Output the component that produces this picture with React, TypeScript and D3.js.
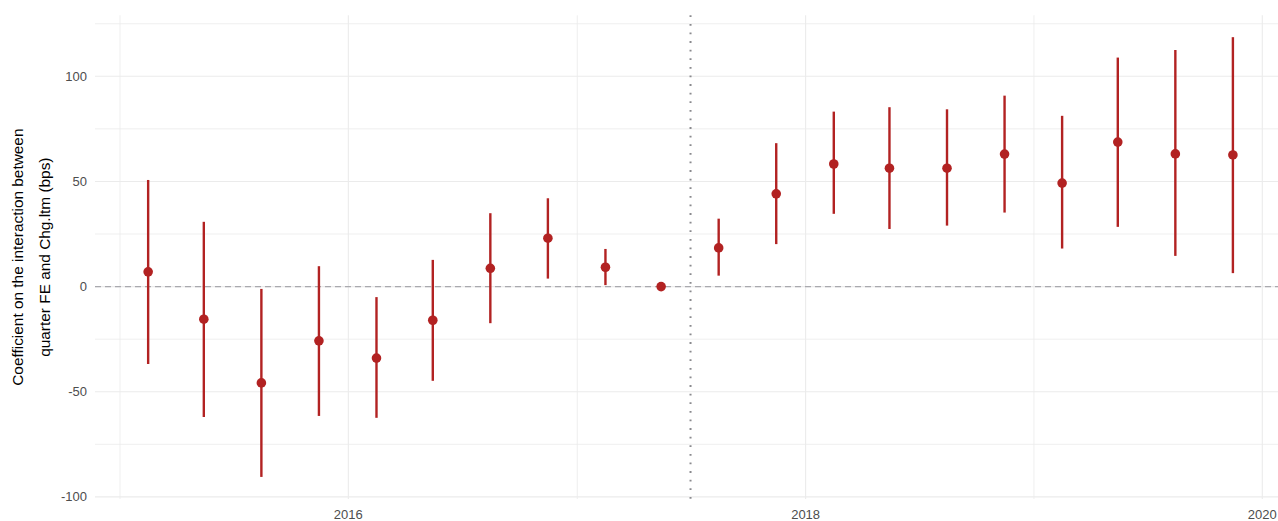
import React from "react";
import * as d3 from "d3";

const dates = [
  "2015-02-15", "2015-05-15", "2015-08-15", "2015-11-15",
  "2016-02-15", "2016-05-15", "2016-08-15", "2016-11-15",
  "2017-02-15", "2017-05-15", "2017-08-15", "2017-11-15",
  "2018-02-15", "2018-05-15", "2018-08-15", "2018-11-15",
  "2019-02-15", "2019-05-15", "2019-08-15", "2019-11-15",
];
const estimates = [7.0, -15.5, -45.8, -25.8, -34.0, -16.0, 8.7, 23.0, 9.2, 0, 18.4, 44.1, 58.3, 56.3, 56.3, 63.0, 49.2, 68.7, 63.1, 62.6];
const lower = [-36.8, -62.0, -90.5, -61.5, -62.4, -44.8, -17.4, 3.8, 0.7, 0, 5.2, 20.2, 34.6, 27.4, 29.0, 35.2, 18.1, 28.4, 14.6, 6.4];
const upper = [50.7, 30.8, -1.1, 9.7, -5.0, 12.7, 34.9, 42.0, 17.9, 0, 32.3, 68.2, 83.2, 85.3, 84.3, 90.8, 81.2, 108.9, 112.5, 118.6];

const yMajor = [-100, -50, 0, 50, 100];
const yMinor = [-75, -25, 25, 75, 125];
const xMajor = ["2016-01-01", "2018-01-01", "2020-01-01"];
const xMinor = ["2015-01-01", "2017-01-01", "2019-01-01"];
const xTickLabels = ["2016", "2018", "2020"];
const eventDate = "2017-07-01";
const yTitle = ["Coefficient on the interaction between", "quarter FE and Chg.ltm (bps)"];

const W = 1278;
const H = 521;
const panel = { left: 95, right: 1288, top: 15.3, bottom: 499 };
const parse = d3.timeParse("%Y-%m-%d");

export default function App() {
  const x = d3
    .scaleTime()
    .domain([parse("2015-01-01")!, parse("2020-01-01")!])
    .range([120, 1262.3]);
  const y = d3.scaleLinear().domain([-101, 129]).range([panel.bottom, panel.top]);
  const red = "#B22222";
  const grid = "#EBEBEB";
  const font = "'Liberation Sans', Arial, sans-serif";
  const pw = Math.min(panel.right, W) - panel.left;

  return (
    <svg width={W} height={H} style={{ position: "absolute", left: 0, top: 0, background: "#fff" }} fontFamily={font}>
      <g>
        {yMinor.map((v) => (
          <line key={"ym" + v} x1={panel.left} x2={panel.left + pw} y1={y(v)} y2={y(v)} stroke={grid} strokeWidth={0.8} />
        ))}
        {xMinor.map((d) => (
          <line key={"xm" + d} x1={x(parse(d)!)} x2={x(parse(d)!)} y1={panel.top} y2={panel.bottom} stroke={grid} strokeWidth={0.8} />
        ))}
        {yMajor.map((v) => (
          <line key={"yM" + v} x1={panel.left} x2={panel.left + pw} y1={y(v)} y2={y(v)} stroke={grid} strokeWidth={1.1} />
        ))}
        {xMajor.map((d) => (
          <line key={"xM" + d} x1={x(parse(d)!)} x2={x(parse(d)!)} y1={panel.top} y2={panel.bottom} stroke={grid} strokeWidth={1.1} />
        ))}
      </g>
      <line x1={panel.left} x2={panel.left + pw} y1={y(0)} y2={y(0)} stroke="#A9A9AE" strokeWidth={1.1} strokeDasharray="6 4" />
      <line
        x1={x(parse(eventDate)!)}
        x2={x(parse(eventDate)!)}
        y1={panel.top}
        y2={panel.bottom}
        stroke="#8A8A8E"
        strokeWidth={2}
        strokeDasharray="1.8 6.8"
      />
      <g>
        {dates.map((d, i) => {
          const cx = x(parse(d)!);
          return (
            <g key={d}>
              <line x1={cx} x2={cx} y1={y(lower[i])} y2={y(upper[i])} stroke={red} strokeWidth={2.4} />
              <circle cx={cx} cy={y(estimates[i])} r={4.8} fill={red} />
            </g>
          );
        })}
      </g>
      <g fontSize={13} fill="#4D4D4D">
        {yMajor.map((v) => (
          <text key={"yl" + v} x={87} y={y(v)} dy="0.35em" textAnchor="end">
            {v}
          </text>
        ))}
        {xMajor.map((d, i) => (
          <text key={"xl" + d} x={x(parse(d)!)} y={519} textAnchor="middle">
            {xTickLabels[i]}
          </text>
        ))}
      </g>
      <g fontSize={15.4} fill="#000">
        {yTitle.map((t, i) => (
          <text
            key={t}
            transform={`translate(${23 + i * 27}, ${(panel.top + panel.bottom) / 2}) rotate(-90)`}
            textAnchor="middle"
          >
            {t}
          </text>
        ))}
      </g>
    </svg>
  );
}
